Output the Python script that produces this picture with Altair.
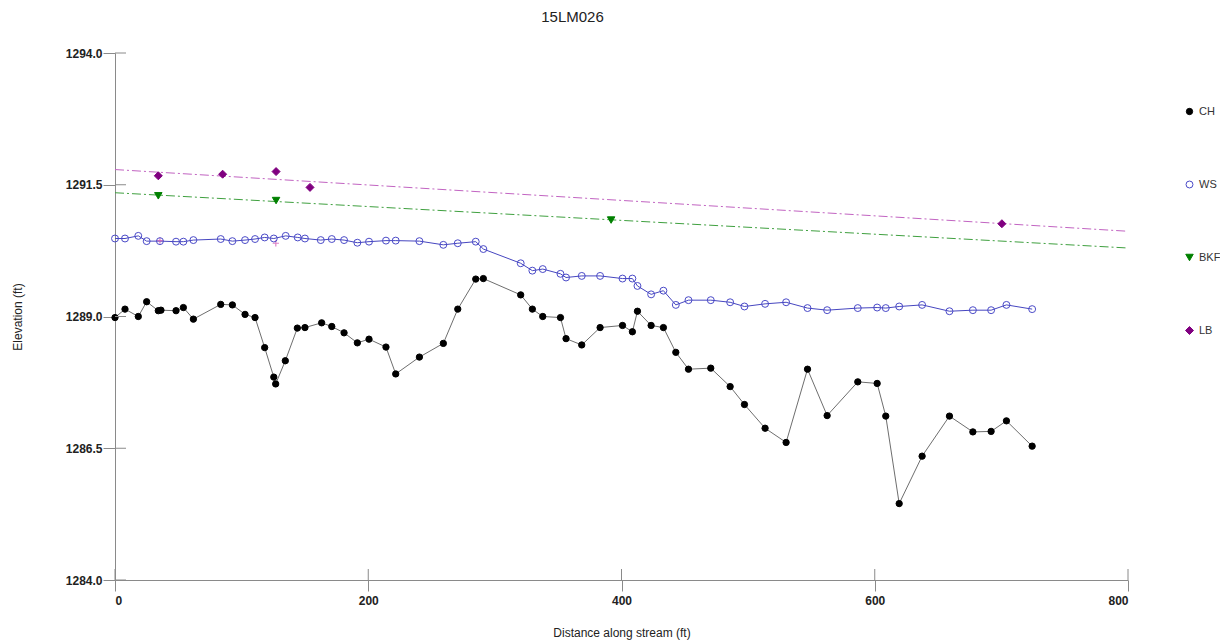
import altair as alt
import pandas as pd

# ---------------- data ----------------
series_names = ["CH", "WS", "BKF", "LB"]

ch_x = [0, 7.9, 18.4, 25, 34.2, 36.3, 48.2, 54, 61.9, 83.5, 92.7, 102.7, 110.6, 118.2,
        125.4, 126.9, 134.5, 144, 150, 163.2, 171.2, 180.9, 191.4, 200.6, 214, 221.7,
        240.4, 259.3, 270.7, 284.9, 290.9, 320.4, 329.6, 337.8, 351.8, 356.2, 368.6,
        383.1, 400.8, 408.6, 412.6, 423.4, 433.1, 442.9, 452.9, 470.5, 485.8, 497.1,
        513.4, 530, 546.9, 562.4, 586.6, 601.9, 608.7, 619.3, 637.4, 659, 677.5, 691.9,
        704, 724.3]
ch_y = [1288.98, 1289.14, 1289.0, 1289.28, 1289.11, 1289.12, 1289.11, 1289.17, 1288.95,
        1289.23, 1289.22, 1289.04, 1288.98, 1288.41, 1287.85, 1287.72, 1288.16, 1288.78,
        1288.79, 1288.88, 1288.81, 1288.69, 1288.50, 1288.57, 1288.42, 1287.91, 1288.23,
        1288.49, 1289.14, 1289.71, 1289.72, 1289.41, 1289.14, 1289.00, 1288.98, 1288.58,
        1288.46, 1288.79, 1288.83, 1288.71, 1289.10, 1288.83, 1288.79, 1288.32, 1288.0,
        1288.02, 1287.67, 1287.33, 1286.88, 1286.61, 1288.0, 1287.12, 1287.76, 1287.73,
        1287.11, 1285.45, 1286.35, 1287.11, 1286.81, 1286.82, 1287.02, 1286.54]

ws_x = [0, 7.9, 18.4, 25, 35.5, 48.2, 54, 61.9, 83.5, 92.7, 102.7, 110.6, 118.2, 125.4,
        134.8, 144.3, 150, 162.5, 171.2, 180.9, 191.4, 200.6, 214, 221.7, 240.4, 259.3,
        270.7, 284.9, 290.9, 320.4, 329.6, 337.8, 351.8, 356.2, 368.6, 383.1, 400.8,
        408.6, 412.6, 423.4, 433.1, 442.9, 452.9, 470.5, 485.8, 497.1, 513.4, 530,
        546.9, 562.4, 586.6, 601.9, 608.7, 619.3, 637.4, 659, 677.5, 691.9, 704, 724.3]
ws_y = [1290.48, 1290.48, 1290.53, 1290.43, 1290.43, 1290.42, 1290.42, 1290.45, 1290.47,
        1290.43, 1290.45, 1290.47, 1290.50, 1290.48, 1290.53, 1290.50, 1290.48, 1290.45,
        1290.47, 1290.45, 1290.40, 1290.42, 1290.44, 1290.44, 1290.43, 1290.36, 1290.39,
        1290.42, 1290.28, 1290.01, 1289.87, 1289.90, 1289.81, 1289.74, 1289.77, 1289.77,
        1289.72, 1289.72, 1289.58, 1289.42, 1289.49, 1289.22, 1289.31, 1289.31, 1289.27,
        1289.19, 1289.24, 1289.27, 1289.16, 1289.12, 1289.16, 1289.17, 1289.16, 1289.19,
        1289.22, 1289.10, 1289.12, 1289.12, 1289.22, 1289.14]

bkf_x = [34.2, 127.2, 391.8]
bkf_y = [1291.29, 1291.20, 1290.83]

lb_x = [34.2, 85, 127.2, 154, 700.4]
lb_y = [1291.67, 1291.70, 1291.75, 1291.45, 1290.76]

extra_x = [35.5, 127.0]
extra_y = [1290.44, 1290.39]

x_ticks = [0, 200, 400, 600, 800]
y_ticks = [1284.0, 1286.5, 1289.0, 1291.5, 1294.0]

# ---------------- tables ----------------
rows = []
for name, xs, ys in [("CH", ch_x, ch_y), ("WS", ws_x, ws_y),
                     ("BKF", bkf_x, bkf_y), ("LB", lb_x, lb_y)]:
    for i, (a, b) in enumerate(zip(xs, ys)):
        rows.append({"series": name, "x": a, "y": b, "i": i})
df = pd.DataFrame(rows)
extra_df = pd.DataFrame({"x": extra_x, "y": extra_y})
xt_df = pd.DataFrame({"x": x_ticks})
yt_df = pd.DataFrame({"y": y_ticks})

W, H = 1013, 527
AX = "#8a8a8a"

xscale = alt.Scale(domain=[0, 800], nice=False, zero=False)
yscale = alt.Scale(domain=[1284, 1294], nice=False, zero=False)

x_axis = alt.Axis(values=x_ticks, format="d", tickSize=11, tickColor=AX, domainColor=AX,
                  labelFontWeight="bold", labelFontSize=12, labelColor="#222222",
                  labelPadding=4, grid=False, title="Distance along stream (ft)",
                  titleFontWeight="normal", titleFontSize=12, titleColor="#222222",
                  titleY=52, titleBaseline="middle")
y_axis = alt.Axis(values=y_ticks, format=".1f", tickSize=12, tickColor=AX, domainColor=AX,
                  labelFontWeight="bold", labelFontSize=12, labelColor="#222222",
                  labelPadding=1, grid=False, title="Elevation (ft)",
                  titleFontWeight="normal", titleFontSize=12, titleColor="#222222",
                  titleX=-98, titleBaseline="middle")

base = alt.Chart(df)

reg_lb = base.transform_filter(alt.datum.series == "LB").transform_regression(
    "x", "y", extent=[0, 800]).mark_line(
    color="#c264c2", strokeWidth=1, strokeDash=[9, 3, 2, 3]).encode(
    x=alt.X("x:Q", scale=xscale, axis=x_axis),
    y=alt.Y("y:Q", scale=yscale, axis=y_axis))

reg_bkf = base.transform_filter(alt.datum.series == "BKF").transform_regression(
    "x", "y", extent=[0, 800]).mark_line(
    color="#3fa03f", strokeWidth=1, strokeDash=[9, 3, 2, 3]).encode(
    x=alt.X("x:Q", scale=xscale), y=alt.Y("y:Q", scale=yscale))

ch_line = base.transform_filter(alt.datum.series == "CH").mark_line(
    color="#6e6e6e", strokeWidth=1).encode(
    x=alt.X("x:Q", scale=xscale), y=alt.Y("y:Q", scale=yscale), order="i:Q")

ws_line = base.transform_filter(alt.datum.series == "WS").mark_line(
    color="#4646c0", strokeWidth=1).encode(
    x=alt.X("x:Q", scale=xscale), y=alt.Y("y:Q", scale=yscale), order="i:Q")

extra = alt.Chart(extra_df).mark_point(
    shape="M-1,0L1,0M0,-1L0,1", color="#d050b0", strokeWidth=1.2, size=40).encode(
    x=alt.X("x:Q", scale=xscale), y=alt.Y("y:Q", scale=yscale))

leg = alt.Legend(title=None, orient="none", legendX=1069, legendY=53,
                 rowPadding=61, symbolSize=36, labelFontSize=11, labelColor="#333333",
                 symbolStrokeWidth=1, labelOffset=4, padding=0)

points = base.mark_point(strokeWidth=1, opacity=1).encode(
    x=alt.X("x:Q", scale=xscale), y=alt.Y("y:Q", scale=yscale),
    color=alt.Color("series:N", sort=series_names,
                    scale=alt.Scale(domain=series_names,
                                    range=["#000000", "#4a4ac8", "#008000", "#800080"]),
                    legend=leg),
    fill=alt.Fill("series:N", sort=series_names,
                  scale=alt.Scale(domain=series_names,
                                  range=["#000000", "rgba(255,255,255,0)", "#008000", "#800080"]),
                  legend=leg),
    shape=alt.Shape("series:N", sort=series_names,
                    scale=alt.Scale(domain=series_names,
                                    range=["circle", "circle", "triangle-down", "diamond"]),
                    legend=leg),
    size=alt.Size("series:N", sort=series_names,
                  scale=alt.Scale(domain=series_names, range=[40, 64, 55, 50]),
                  legend=None),
)

xt_inner = alt.Chart(xt_df).mark_rule(color=AX, strokeWidth=1).encode(
    x=alt.X("x:Q", scale=xscale), y=alt.value(H), y2=alt.value(H - 11))
yt_inner = alt.Chart(yt_df).mark_rule(color=AX, strokeWidth=1).encode(
    y=alt.Y("y:Q", scale=yscale), x=alt.value(0), x2=alt.value(11))

chart = alt.layer(reg_lb, reg_bkf, ch_line, ws_line, extra, points, xt_inner, yt_inner).properties(
    width=W, height=H,
    title=alt.TitleParams("15LM026", fontSize=15, fontWeight="normal", color="#222222",
                          anchor="middle", dx=-49, offset=10, frame="group",
                          baseline="alphabetic"),
    autosize=alt.AutoSizeParams(type="none"),
    padding={"left": 107, "top": 45, "right": 92, "bottom": 60},
).configure(font="Liberation Sans").configure_view(strokeWidth=0)

chart.save("out.html", embed_options={"renderer": "svg", "actions": False})
